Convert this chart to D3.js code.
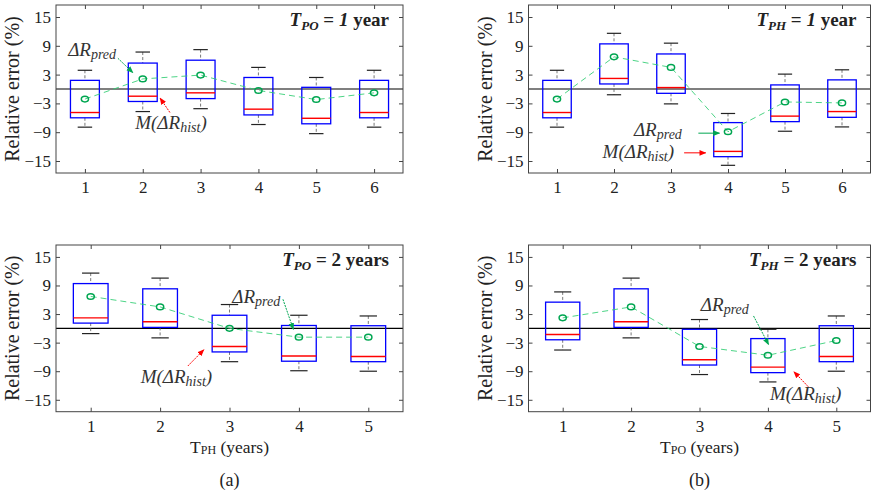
<!DOCTYPE html>
<html><head><meta charset="utf-8">
<script src="https://cdn.jsdelivr.net/npm/d3@7"></script>
<style>
body{margin:0;background:#fff;}
svg text{font-family:'Liberation Serif';}
</style></head>
<body>
<svg id="c" width="871" height="495" font-family="Liberation Serif"></svg>
<script>
// ---- data ----
const yTicks = [-15, -9, -3, 3, 9, 15];
const catsA = [1, 2, 3, 4, 5, 6];
const catsB = [1, 2, 3, 4, 5, 6];
const catsC = [1, 2, 3, 4, 5];
const catsD = [1, 2, 3, 4, 5];

// Panel (a) top: T_PO = 1 year, x = T_PH
const hiA   = [3.9, 7.7, 8.2, 4.5, 2.4, 3.9];
const q3A   = [1.8, 5.4, 6.0, 2.4, 0.35, 1.8];
const medA  = [-4.9, -1.5, -0.8, -4.2, -6.1, -4.9];
const q1A   = [-6.0, -2.6, -2.0, -5.4, -7.25, -6.0];
const loA   = [-7.95, -4.7, -4.1, -7.4, -9.3, -7.95];
const meanA = [-2.1, 2.1, 2.9, -0.3, -2.2, -0.8];

// Panel (b) top: T_PH = 1 year, x = T_PO
const hiB   = [3.9, 11.6, 9.55, -5.1, 3.1, 4.0];
const q3B   = [1.8, 9.4, 7.3, -7.0, 0.85, 1.9];
const medB  = [-4.9, 2.2, 0.3, -13.0, -5.65, -4.7];
const q1B   = [-6.0, 1.05, -0.9, -14.1, -6.8, -5.9];
const loB   = [-7.95, -1.2, -3.1, -15.9, -8.8, -7.9];
const meanB = [-2.1, 6.7, 4.5, -8.9, -2.7, -2.9];

// Panel (a) bottom: T_PO = 2 years, x = T_PH
const hiC   = [11.6, 10.55, 5.0, 2.75, 2.6];
const q3C   = [9.4, 8.3, 2.75, 0.6, 0.55];
const medC  = [2.2, 1.4, -3.8, -5.8, -5.9];
const q1C   = [1.1, 0.2, -4.95, -6.9, -7.0];
const loC   = [-1.1, -2.0, -7.0, -8.9, -9.0];
const meanC = [6.7, 4.5, 0.0, -1.85, -1.85];

// Panel (b) bottom: T_PH = 2 years, x = T_PO
const hiD   = [7.65, 10.55, 1.85, -0.2, 2.6];
const q3D   = [5.5, 8.3, -0.2, -2.15, 0.55];
const medD  = [-1.3, 1.4, -6.6, -8.15, -5.9];
const q1D   = [-2.4, 0.2, -7.7, -9.3, -7.0];
const loD   = [-4.55, -2.0, -9.7, -11.25, -9.0];
const meanD = [2.2, 4.5, -3.8, -5.65, -2.55];

const FONT = "'Liberation Serif', 'Times New Roman', Times, serif";
const svg = d3.select("#c").attr("font-family", FONT);
const defs = svg.append("defs");
[["g","#00a651"],["r","#ff0000"]].forEach(([id,col])=>{
  defs.append("marker").attr("id","arr"+id).attr("viewBox","0 0 10 10")
    .attr("refX",9).attr("refY",5).attr("markerWidth",7).attr("markerHeight",7)
    .attr("orient","auto").attr("markerUnits","userSpaceOnUse")
    .append("path").attr("d","M0,1 L10,5 L0,9 Z").attr("fill",col);
});

function panel(cfg){
  const {x0,x1,y0,y1,cats,hi,q3,med,q1,lo,mean} = cfg;
  const x = d3.scaleLinear().domain([0.5, cats.length + 0.5]).range([x0, x1]);
  const y = d3.scaleLinear().domain([-17.5, 17.5]).range([y1, y0]);
  const g = svg.append("g").attr("font-family", FONT);
  const bw = (x(1) - x(0)) * 0.5;

  // zero line
  g.append("line").attr("x1",x0).attr("x2",x1).attr("y1",y(0)).attr("y2",y(0))
    .attr("stroke",cfg.zeroCol).attr("stroke-width",cfg.zeroW);

  const rows = cats.map((c,i)=>({c,hi:hi[i],q3:q3[i],med:med[i],q1:q1[i],lo:lo[i],mean:mean[i]}));
  const bx = g.selectAll("g.box").data(rows).enter().append("g");
  // whiskers
  bx.append("line").attr("x1",d=>x(d.c)).attr("x2",d=>x(d.c))
    .attr("y1",d=>y(d.hi)).attr("y2",d=>y(d.q3))
    .attr("stroke","#555").attr("stroke-width",0.8).attr("stroke-dasharray","3,2");
  bx.append("line").attr("x1",d=>x(d.c)).attr("x2",d=>x(d.c))
    .attr("y1",d=>y(d.q1)).attr("y2",d=>y(d.lo))
    .attr("stroke","#555").attr("stroke-width",0.8).attr("stroke-dasharray","3,2");
  // caps
  bx.append("line").attr("x1",d=>x(d.c)-bw/4).attr("x2",d=>x(d.c)+bw/4)
    .attr("y1",d=>y(d.hi)).attr("y2",d=>y(d.hi)).attr("stroke","#222").attr("stroke-width",1.2);
  bx.append("line").attr("x1",d=>x(d.c)-bw/4).attr("x2",d=>x(d.c)+bw/4)
    .attr("y1",d=>y(d.lo)).attr("y2",d=>y(d.lo)).attr("stroke","#222").attr("stroke-width",1.2);
  // box
  bx.append("rect").attr("x",d=>x(d.c)-bw/2).attr("width",bw)
    .attr("y",d=>y(d.q3)).attr("height",d=>y(d.q1)-y(d.q3))
    .attr("fill","none").attr("stroke","#0000ff").attr("stroke-width",1.3);
  // median
  bx.append("line").attr("x1",d=>x(d.c)-bw/2).attr("x2",d=>x(d.c)+bw/2)
    .attr("y1",d=>y(d.med)).attr("y2",d=>y(d.med)).attr("stroke","#ff0000").attr("stroke-width",1.4);

  // mean line
  g.append("path").datum(rows)
    .attr("d", d3.line().x(d=>x(d.c)).y(d=>y(d.mean)))
    .attr("fill","none").attr("stroke","#2ecc71").attr("stroke-opacity",0.85)
    .attr("stroke-width",1).attr("stroke-dasharray","6,4");
  g.selectAll("ellipse.m").data(rows).enter().append("ellipse")
    .attr("cx",d=>x(d.c)).attr("cy",d=>y(d.mean)).attr("rx",3.6).attr("ry",2.8)
    .attr("fill","none").attr("stroke","#00a651").attr("stroke-width",1.5);

  // frame
  g.append("rect").attr("x",x0).attr("y",y0).attr("width",x1-x0).attr("height",y1-y0)
    .attr("fill","none").attr("stroke","#444").attr("stroke-width",1);
  const tl = 4;
  // ticks
  const yAxisL = d3.axisLeft(y).tickValues(yTicks).tickSize(-tl).tickPadding(5).tickFormat(d3.format("d"));
  const ga = g.append("g").attr("transform",`translate(${x0},0)`).call(yAxisL);
  ga.attr("font-family", FONT).attr("font-size", 17);
  ga.select(".domain").remove();
  ga.selectAll("line").attr("stroke","#444");
  ga.selectAll("text").attr("fill","#222");
  const gr = g.append("g").attr("transform",`translate(${x1},0)`)
    .call(d3.axisRight(y).tickValues(yTicks).tickSize(-tl).tickFormat(""));
  gr.select(".domain").remove(); gr.selectAll("line").attr("stroke","#444");
  const gb = g.append("g").attr("transform",`translate(0,${y1})`)
    .call(d3.axisBottom(x).tickValues(cats).tickSize(-tl).tickPadding(8).tickFormat(d3.format("d")));
  gb.attr("font-family", FONT).attr("font-size", 17);
  gb.select(".domain").remove(); gb.selectAll("line").attr("stroke","#444");
  gb.selectAll("text").attr("fill","#222");
  const gt = g.append("g").attr("transform",`translate(0,${y0})`)
    .call(d3.axisTop(x).tickValues(cats).tickSize(-tl).tickFormat(""));
  gt.select(".domain").remove(); gt.selectAll("line").attr("stroke","#444");

  // y label
  g.append("text").attr("transform",`translate(${x0-37},${(y0+y1)/2}) rotate(-90)`)
    .attr("text-anchor","middle").attr("font-size",20).attr("fill","#222")
    .text("Relative error (%)");

  // title
  const t = g.append("text").attr("x",x1-14).attr("y",y0+21).attr("text-anchor","end")
    .attr("font-size",19).attr("font-weight","bold").attr("fill","#222");
  t.append("tspan").attr("font-style","italic").text("T");
  t.append("tspan").attr("font-style","italic").attr("font-size",13).attr("dy",4).text(cfg.sub);
  t.append("tspan").attr("dy",-4).text(" = ");
  t.append("tspan").attr("font-style",cfg.numItalic?"italic":"normal").text(cfg.num);
  t.append("tspan").text(" " + cfg.unit);

  // annotations
  const a = cfg.ann;
  const tp = g.append("text").attr("x",x(a.pred[0])).attr("y",y(a.pred[1]))
    .attr("font-size",19).attr("font-style","italic").attr("fill","#333");
  tp.append("tspan").text("\u0394R");
  tp.append("tspan").attr("font-size",14).attr("dy",3).text("pred");
  const th = g.append("text").attr("x",x(a.hist[0])).attr("y",y(a.hist[1]))
    .attr("font-size",19).attr("font-style","italic").attr("fill","#333");
  th.append("tspan").text("M(\u0394R");
  th.append("tspan").attr("font-size",14).attr("dy",3).text("hist");
  th.append("tspan").attr("dy",-3).text(")");
  g.append("line").attr("x1",x(a.ga[0])).attr("y1",y(a.ga[1])).attr("x2",x(a.ga[2])).attr("y2",y(a.ga[3]))
    .attr("stroke","#00a651").attr("stroke-width",1).attr("stroke-dasharray",a.gDash||null)
    .attr("marker-end","url(#arrg)");
  g.append("line").attr("x1",x(a.ra[0])).attr("y1",y(a.ra[1])).attr("x2",x(a.ra[2])).attr("y2",y(a.ra[3]))
    .attr("stroke","#ff0000").attr("stroke-width",1).attr("stroke-dasharray",a.rDash||null)
    .attr("marker-end","url(#arrr)");

  // x label
  if (cfg.xlab){
    const xl = g.append("text").attr("x",(x0+x1)/2).attr("y",y1+41).attr("text-anchor","middle")
      .attr("font-size",17.5).attr("fill","#222");
    xl.append("tspan").text("T");
    xl.append("tspan").attr("font-size",12).attr("dy",1).text(cfg.xlab);
    xl.append("tspan").attr("dy",-1).text(" (years)");
    g.append("text").attr("x",(x0+x1)/2).attr("y",y1+74).attr("text-anchor","middle")
      .attr("font-size",18).attr("fill","#222").text(cfg.letter);
  }
}

panel({x0:56,x1:403,y0:5,y1:173,cats:catsA,hi:hiA,q3:q3A,med:medA,q1:q1A,lo:loA,mean:meanA,
  zeroCol:"#555",zeroW:1.6,sub:"PO",num:"1",numItalic:true,unit:"year",
  ann:{pred:[0.71,6.9],hist:[1.87,-8.3],ga:[1.57,6.4,1.83,3.4],ra:[2.47,-4.9,2.30,-1.9],gDash:"2,1",rDash:"2,1"}});
panel({x0:528.5,x1:870.5,y0:5,y1:173,cats:catsB,hi:hiB,q3:q3B,med:medB,q1:q1B,lo:loB,mean:meanB,
  zeroCol:"#555",zeroW:1.6,sub:"PH",num:"1",numItalic:true,unit:"year",
  ann:{pred:[2.35,-9.8],hist:[1.80,-14.3],ga:[3.48,-9.2,3.85,-9.2],ra:[3.23,-13.3,3.61,-13.3]}});
panel({x0:56,x1:403,y0:245,y1:411.7,cats:catsC,hi:hiC,q3:q3C,med:medC,q1:q1C,lo:loC,mean:meanC,
  zeroCol:"#000",zeroW:1.2,sub:"PO",num:"2",numItalic:false,unit:"years",xlab:"PH",letter:"(a)",
  ann:{pred:[3.04,5.4],hist:[1.72,-11.5],ga:[3.77,6.1,3.92,-0.2],ra:[2.40,-7.9,2.63,-4.5],gDash:"2,1",rDash:"2,1"}});
panel({x0:528.5,x1:870.5,y0:245,y1:411.7,cats:catsD,hi:hiD,q3:q3D,med:medD,q1:q1D,lo:loD,mean:meanD,
  zeroCol:"#000",zeroW:1.2,sub:"PH",num:"2",numItalic:false,unit:"years",xlab:"PO",letter:"(b)",
  ann:{pred:[3.02,3.7],hist:[4.03,-15.0],ga:[3.79,2.6,4.01,-3.4],ra:[4.59,-12.25,4.38,-9.1],gDash:"2,1",rDash:"2,1"}});
</script>
</body></html>
